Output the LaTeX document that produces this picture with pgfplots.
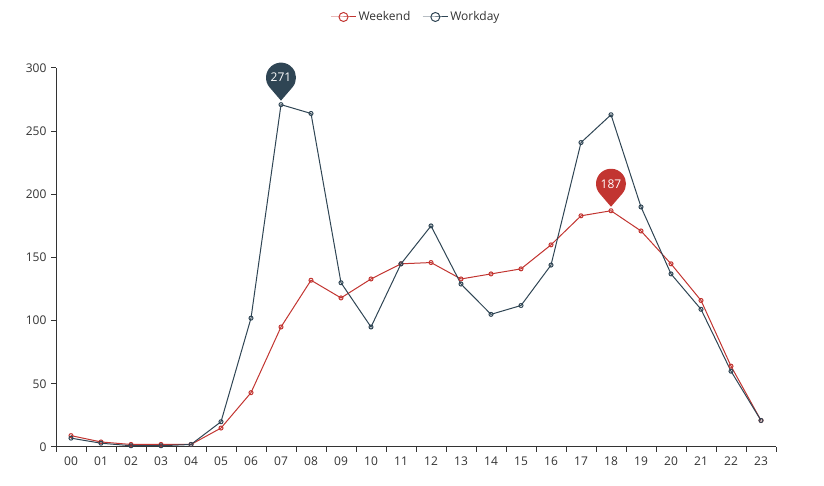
\documentclass[border=0pt]{standalone}
\usepackage{pgfplots}
\pgfplotsset{compat=1.18}
\usepackage{fontspec}
\setmainfont{Open Sans}
\definecolor{wkend}{HTML}{C23531}
\definecolor{wkday}{HTML}{2F4554}
\definecolor{axc}{HTML}{333333}
\pgfdeclareplotmark{pin}{%
  \pgfpathmoveto{\pgfqpoint{0pt}{4pt}}%
  \pgfpathlineto{\pgfqpoint{-11.37pt}{17.22pt}}%
  \pgfpatharc{220.7}{-40.7}{15pt}%
  \pgfpathclose
  \pgfusepath{fill}}
\begin{document}
\begin{tikzpicture}
\path[use as bounding box] (0,0) rectangle (824pt,486pt);
\begin{axis}[
  at={(56pt,39pt)}, anchor=south west,
  width=720pt, height=379pt, scale only axis,
  xmin=-0.5, xmax=23.5, ymin=0, ymax=300,
  clip=false,
  axis x line*=bottom, axis y line*=left,
  axis line style={-, draw=axc, line width=1pt},
  tick align=outside, major tick length=0pt, minor tick length=5pt,
  tick style={draw=axc, line width=1pt},
  ytick={0,50,...,300}, minor ytick={0,50,...,300},
  xtick={0,...,23},
  xticklabels={00,01,02,03,04,05,06,07,08,09,10,11,12,13,14,15,16,17,18,19,20,21,22,23},
  minor xtick={-0.5,0.5,...,23.5},
  /pgf/number format/assume math mode=true,
  tick label style={font=\fontsize{12pt}{14pt}\selectfont, text=axc},
  xticklabel style={yshift=-6pt},
  yticklabel style={xshift=-6pt},
  legend style={at={(0.5,1.1346)}, anchor=center, draw=none, fill=none,
    legend columns=2, font=\fontsize{12pt}{14pt}\selectfont, text=axc,
    /tikz/every even column/.append style={column sep=10pt}},
  legend cell align=left,
  legend image code/.code={\draw[mark repeat=2,mark phase=2,#1,mark size=4.5pt] plot coordinates {(0pt,0pt)(12.5pt,0pt)(25pt,0pt)};},
]
\addplot[wkend, line width=1pt, mark=o, mark size=2pt, mark options={fill=white}] coordinates {
(0,9)(1,4)(2,2)(3,2)(4,2)(5,15)(6,43)(7,95)(8,132)(9,118)(10,133)(11,145)(12,146)(13,133)(14,137)(15,141)(16,160)(17,183)(18,187)(19,171)(20,145)(21,116)(22,64)(23,21)};
\addlegendentry{Weekend}
\addplot[wkday, line width=1pt, mark=o, mark size=2pt, mark options={fill=white}] coordinates {
(0,7)(1,3)(2,1)(3,1)(4,2)(5,20)(6,102)(7,271)(8,264)(9,130)(10,95)(11,145)(12,175)(13,129)(14,105)(15,112)(16,144)(17,241)(18,263)(19,190)(20,137)(21,109)(22,60)(23,21)};
\addlegendentry{Workday}
\addplot[forget plot, only marks, mark=pin, wkday, fill=wkday, nodes near coords, point meta=explicit symbolic,
  every node near coord/.style={anchor=center, yshift=27pt, text=white, font=\fontsize{12pt}{14pt}\selectfont}]
  coordinates {(7,271) [271]};
\addplot[forget plot, only marks, mark=pin, wkend, fill=wkend, nodes near coords, point meta=explicit symbolic,
  every node near coord/.style={anchor=center, yshift=27pt, text=white, font=\fontsize{12pt}{14pt}\selectfont}]
  coordinates {(18,187) [187]};
\end{axis}
\end{tikzpicture}
\end{document}
